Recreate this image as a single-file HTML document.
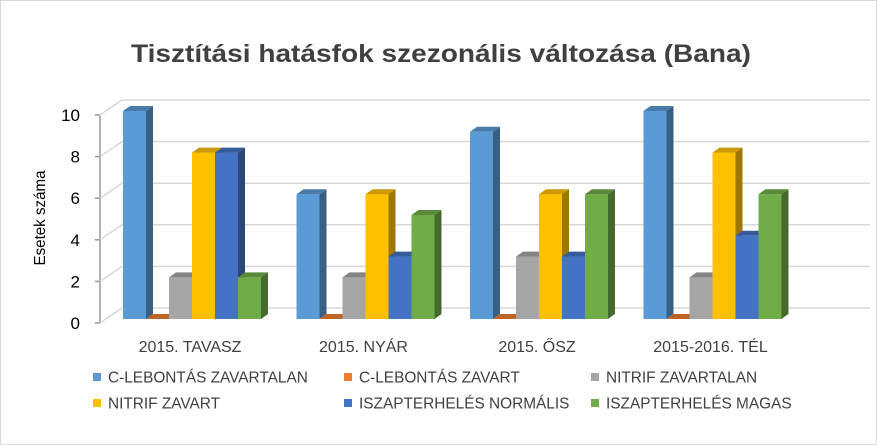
<!DOCTYPE html>
<html><head><meta charset="utf-8"><style>
html,body{margin:0;padding:0;background:#fff}
svg{display:block;font-family:"Liberation Sans",sans-serif}
</style></head><body>
<svg id="chart" width="877" height="445" viewBox="0 0 877 445">
<rect x="0.5" y="0.5" width="876" height="444" fill="#fff" stroke="#d9d9d9"/>
<text x="441" y="62" text-anchor="middle" font-size="25" font-weight="bold" fill="#404040" textLength="620" lengthAdjust="spacingAndGlyphs">Tisztítási hatásfok szezonális változása (Bana)</text>
<text transform="translate(45,218) rotate(-90)" text-anchor="middle" font-size="16" fill="#000" textLength="95" lengthAdjust="spacingAndGlyphs">Esetek száma</text>
<g id="grid"></g><g id="bars"></g><g id="xlabels"></g><g id="legend"></g>
</svg>
<script>
const categories=["2015. TAVASZ","2015. NYÁR","2015. ŐSZ","2015-2016. TÉL"];
const seriesNames=["C-LEBONTÁS ZAVARTALAN","C-LEBONTÁS ZAVART","NITRIF ZAVARTALAN","NITRIF ZAVART","ISZAPTERHELÉS NORMÁLIS","ISZAPTERHELÉS MAGAS"];
const cLebontasZavartalan=[10,6,9,10];
const cLebontasZavart=[0,0,0,0];
const nitrifZavartalan=[2,2,3,2];
const nitrifZavart=[8,6,6,8];
const iszapNormalis=[8,3,3,4];
const iszapMagas=[2,5,6,6];
const yTicks=[0,2,4,6,8,10];
const series=[cLebontasZavartalan,cLebontasZavart,nitrifZavartalan,nitrifZavart,iszapNormalis,iszapMagas];
const colors=["#5B9BD5","#ED7D31","#A5A5A5","#FFC000","#4472C4","#70AD47"];
const NS="http://www.w3.org/2000/svg";
function mk(tag,attrs,parent){const e=document.createElementNS(NS,tag);for(const k in attrs)e.setAttribute(k,attrs[k]);parent.appendChild(e);return e;}
function shade(hex,f){const n=parseInt(hex.slice(1),16);let r=n>>16,g=(n>>8)&255,b=n&255;return `rgb(${Math.round(r*f)},${Math.round(g*f)},${Math.round(b*f)})`;}
const floorY=319, unit=20.8, x0=123, groupStep=173.5, barW=23, dx=7, dy=5;
function yS(v){return floorY-v*unit;}
function xS(ci,si){return x0+ci*groupStep+si*barW;}
const grid=document.getElementById('grid');
const ax=mk('line',{x1:100,y1:yS(10)+5,x2:100,y2:yS(0)+4,stroke:'#999','stroke-width':1.5},grid);

yTicks.forEach(t=>{
  const yb=yS(t)-11;
  const g=mk('line',{x1:122,y1:yb,x2:870,y2:yb,stroke:'#d9d9d9','stroke-width':1.5},grid);
  
  const d=mk('line',{x1:100,y1:yS(t)+4,x2:122,y2:yb,stroke:'#d9d9d9','stroke-width':1.5},grid);
  
  const tk=mk('line',{x1:95,y1:yS(t)+4,x2:100,y2:yS(t)+4,stroke:'#999','stroke-width':1.5},grid);
  
  const tl=mk('text',{x:80,y:yS(t)+10,'text-anchor':'end','font-size':17,fill:'#000'},grid);
  tl.textContent=t;
  
});
const bars=document.getElementById('bars');
categories.forEach((c,ci)=>{
  series.forEach((s,si)=>{
    const v=s[ci], x=xS(ci,si), yt=yS(v), col=colors[si];
    const g=mk('g',{},bars);
    
    
    mk('polygon',{points:`${x+barW},${yt} ${x+barW+dx},${yt-dy} ${x+barW+dx},${floorY-dy} ${x+barW},${floorY}`,fill:shade(col,0.62)},g);
    if(v>0) mk('rect',{x:x,y:yt,width:barW,height:floorY-yt,fill:col},g);
    mk('polygon',{points:`${x},${yt} ${x+dx},${yt-dy} ${x+barW+dx},${yt-dy} ${x+barW},${yt}`,fill:shade(col,0.8)},g);
  });
  const t=mk('text',{x:xS(ci,3)-2,y:352,'text-anchor':'middle','font-size':16,fill:'#404040'},document.getElementById('xlabels'));
  t.textContent=c;
  
});
const legend=document.getElementById('legend');
const lx=[93,344,591], ly=[377,403];
seriesNames.forEach((n,i)=>{
  const x=lx[i%3], y=ly[Math.floor(i/3)];
  const g=mk('g',{},legend);
  
  
  mk('rect',{x:x,y:y-4,width:8,height:8,fill:colors[i]},g);
  const t=mk('text',{x:x+15,y:y+5.5,'font-size':15.4,fill:'#404040'},g);
  t.textContent=n;
});
</script>
</body></html>
